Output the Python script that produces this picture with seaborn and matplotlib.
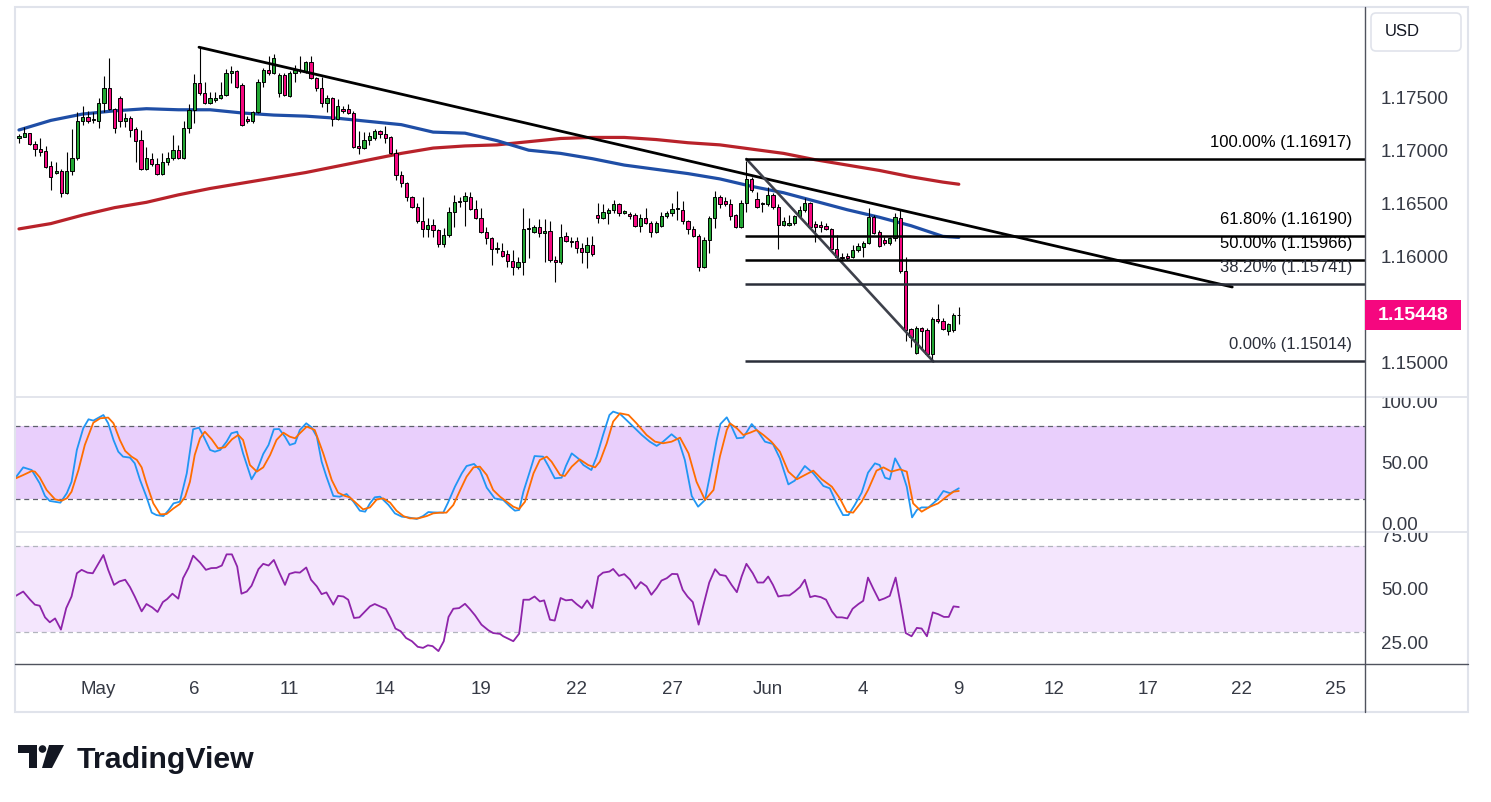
import numpy as np
import pandas as pd
import matplotlib
matplotlib.use("Agg")
import matplotlib.pyplot as plt
import seaborn as sns
from matplotlib.transforms import Affine2D, blended_transform_factory, Bbox, TransformedBbox
from matplotlib.patches import Rectangle, FancyBboxPatch, Polygon, Circle
from matplotlib.lines import Line2D

# ---------------- data (4H candles) ----------------
open_px = [1.1711,1.1712,1.1716,1.1706,1.1701,1.1699,1.1685,1.1679,1.1680,1.1660,
           1.1680,1.1693,1.1727,1.1731,1.1728,1.1727,1.1744,1.1758,1.1739,1.1749,
           1.1727,1.1730,1.1720,1.1710,1.1682,1.1692,1.1687,1.1678,1.1689,1.1693,
           1.1700,1.1693,1.1721,1.1738,1.1763,1.1754,1.1744,1.1747,1.1749,1.1752,
           1.1773,1.1774,1.1761,1.1729,1.1727,1.1736,1.1764,1.1775,1.1773,1.1754,
           1.1771,1.1751,1.1773,1.1775,1.1774,1.1783,1.1768,1.1758,1.1744,1.1749,
           1.1729,1.1739,1.1739,1.1735,1.1704,1.1702,1.1710,1.1711,1.1718,1.1715,
           1.1712,1.1697,1.1677,1.1669,1.1656,1.1647,1.1633,1.1626,1.1630,1.1625,
           1.1612,1.1620,1.1642,1.1651,1.1652,1.1656,1.1645,1.1636,1.1623,1.1617,
           1.1607,1.1605,1.1602,1.1596,1.1590,1.1595,1.1626,1.1623,1.1628,1.1622,
           1.1624,1.1597,1.1595,1.1619,1.1615,1.1615,1.1608,1.1604,1.1611,1.1639,
           1.1636,1.1641,1.1644,1.1649,1.1641,1.1640,1.1639,1.1629,1.1636,1.1632,
           1.1623,1.1629,1.1638,1.1641,1.1645,1.1644,1.1633,1.1626,1.1619,1.1590,
           1.1616,1.1636,1.1656,1.1652,1.1649,1.1639,1.1628,1.1650,1.1673,1.1654,
           1.1649,1.1649,1.1658,1.1647,1.1630,1.1630,1.1632,1.1638,1.1644,1.1650,
           1.1631,1.1630,1.1629,1.1626,1.1607,1.1600,1.1601,1.1600,1.1606,1.1609,
           1.1613,1.1637,1.1623,1.1616,1.1613,1.1617,1.1636,1.1586,1.1532,1.1509,
           1.1533,1.1531,1.1508,1.1541,1.1539,1.1530,1.1531,1.1545]
close_px = [1.1713,1.1716,1.1706,1.1701,1.1698,1.1684,1.1675,1.1680,1.1660,1.1680,
            1.1693,1.1727,1.1731,1.1727,1.1729,1.1744,1.1758,1.1739,1.1721,1.1727,
            1.1730,1.1719,1.1709,1.1682,1.1693,1.1687,1.1678,1.1689,1.1693,1.1700,
            1.1693,1.1721,1.1738,1.1763,1.1754,1.1744,1.1749,1.1749,1.1752,1.1773,
            1.1774,1.1759,1.1724,1.1727,1.1736,1.1764,1.1775,1.1773,1.1787,1.1771,
            1.1752,1.1773,1.1775,1.1774,1.1783,1.1768,1.1758,1.1744,1.1749,1.1729,
            1.1742,1.1737,1.1735,1.1703,1.1702,1.1710,1.1713,1.1718,1.1715,1.1711,
            1.1697,1.1677,1.1669,1.1656,1.1647,1.1633,1.1626,1.1630,1.1625,1.1612,
            1.1620,1.1642,1.1651,1.1652,1.1657,1.1645,1.1636,1.1623,1.1617,1.1607,
            1.1608,1.1601,1.1596,1.1590,1.1595,1.1626,1.1627,1.1628,1.1622,1.1624,
            1.1597,1.1595,1.1618,1.1615,1.1614,1.1608,1.1604,1.1611,1.1602,1.1636,
            1.1642,1.1644,1.1649,1.1641,1.1643,1.1638,1.1629,1.1636,1.1632,1.1623,
            1.1632,1.1638,1.1641,1.1645,1.1646,1.1633,1.1626,1.1619,1.1590,1.1616,
            1.1636,1.1656,1.1649,1.1649,1.1638,1.1628,1.1650,1.1673,1.1663,1.1647,
            1.1650,1.1658,1.1647,1.1630,1.1633,1.1632,1.1638,1.1644,1.1650,1.1628,
            1.1628,1.1628,1.1626,1.1607,1.1600,1.1599,1.1599,1.1606,1.1610,1.1613,
            1.1637,1.1622,1.1610,1.1613,1.1617,1.1637,1.1586,1.1531,1.1524,1.1533,
            1.1530,1.1508,1.1541,1.1539,1.1532,1.1537,1.1545,1.15448]
high_px = [1.1715,1.1722,1.1716,1.1709,1.1711,1.1704,1.1690,1.1689,1.1682,1.1698,
           1.1720,1.1736,1.1742,1.1737,1.1736,1.1749,1.1770,1.1787,1.1740,1.1751,
           1.1735,1.1732,1.1722,1.1719,1.1703,1.1697,1.1693,1.1697,1.1698,1.1714,
           1.1705,1.1727,1.1743,1.1772,1.1797,1.1764,1.1755,1.1755,1.1764,1.1776,
           1.1779,1.1775,1.1763,1.1732,1.1737,1.1767,1.1777,1.1789,1.1790,1.1773,
           1.1773,1.1774,1.1780,1.1789,1.1784,1.1789,1.1769,1.1769,1.1752,1.1750,
           1.1748,1.1742,1.1743,1.1737,1.1718,1.1717,1.1717,1.1720,1.1719,1.1723,
           1.1713,1.1701,1.1680,1.1670,1.1657,1.1650,1.1656,1.1636,1.1635,1.1626,
           1.1627,1.1647,1.1658,1.1656,1.1661,1.1661,1.1653,1.1646,1.1628,1.1618,
           1.1614,1.1613,1.1606,1.1606,1.1600,1.1646,1.1636,1.1630,1.1635,1.1635,
           1.1633,1.1601,1.1631,1.1623,1.1618,1.1618,1.1613,1.1618,1.1619,1.1650,
           1.1649,1.1646,1.1653,1.1650,1.1644,1.1642,1.1641,1.1640,1.1646,1.1633,
           1.1633,1.1642,1.1643,1.1650,1.1662,1.1652,1.1634,1.1629,1.1621,1.1618,
           1.1638,1.1662,1.1658,1.1656,1.1654,1.1640,1.1653,1.1690,1.1675,1.1661,
           1.1651,1.1665,1.1660,1.1649,1.1637,1.1639,1.1639,1.1648,1.1655,1.1651,
           1.1633,1.1633,1.1632,1.1627,1.1620,1.1603,1.1603,1.1611,1.1613,1.1615,
           1.1646,1.1639,1.1625,1.1618,1.1618,1.1641,1.1644,1.1600,1.1533,1.1535,
           1.1534,1.1533,1.1543,1.1555,1.1542,1.1538,1.1547,1.1553]
low_px = [1.1707,1.1712,1.1705,1.1695,1.1695,1.1683,1.1663,1.1678,1.1656,1.1659,
          1.1677,1.1691,1.1724,1.1726,1.1726,1.1721,1.1736,1.1738,1.1716,1.1722,
          1.1722,1.1712,1.1689,1.1681,1.1681,1.1685,1.1677,1.1677,1.1686,1.1691,
          1.1692,1.1692,1.1716,1.1726,1.1752,1.1743,1.1743,1.1745,1.1748,1.1751,
          1.1763,1.1758,1.1723,1.1726,1.1726,1.1735,1.1759,1.1771,1.1772,1.1750,
          1.1751,1.1750,1.1764,1.1773,1.1773,1.1767,1.1756,1.1741,1.1736,1.1723,
          1.1728,1.1735,1.1734,1.1702,1.1696,1.1701,1.1705,1.1710,1.1711,1.1707,
          1.1696,1.1672,1.1665,1.1652,1.1646,1.1632,1.1618,1.1618,1.1618,1.1609,
          1.1609,1.1618,1.1628,1.1647,1.1629,1.1644,1.1635,1.1622,1.1612,1.1592,
          1.1603,1.1600,1.1590,1.1583,1.1588,1.1583,1.1599,1.1622,1.1618,1.1595,
          1.1595,1.1576,1.1593,1.1614,1.1609,1.1603,1.1594,1.1589,1.1601,1.1632,
          1.1635,1.1631,1.1641,1.1638,1.1640,1.1635,1.1628,1.1623,1.1631,1.1618,
          1.1622,1.1628,1.1636,1.1638,1.1634,1.1631,1.1621,1.1618,1.1586,1.1589,
          1.1603,1.1627,1.1646,1.1648,1.1634,1.1627,1.1627,1.1642,1.1661,1.1646,
          1.1642,1.1648,1.1645,1.1607,1.1629,1.1629,1.1630,1.1637,1.1642,1.1627,
          1.1614,1.1623,1.1625,1.1606,1.1597,1.1597,1.1597,1.1599,1.1604,1.1600,
          1.1612,1.1621,1.1609,1.1611,1.1611,1.1615,1.1585,1.1521,1.1515,1.1508,
          1.1512,1.1507,1.15014,1.1538,1.1531,1.1526,1.1529,1.1537]

# moving averages (sampled every 6 bars)
ma_bars = [0,6,12,18,24,30,36,42,48,54,60,66,72,78,84,90,96,102,108,114,120,
           126,132,138,144,150,156,162,168,174,177]
ma_fast = [1.1719,1.1728,1.1734,1.1737,1.1739,1.1738,1.1738,1.1735,1.1733,1.1732,
           1.1730,1.1727,1.1724,1.1717,1.1716,1.1709,1.1700,1.1697,1.1692,1.1686,
           1.1682,1.1678,1.1673,1.1666,1.1660,1.1652,1.1644,1.1637,1.1629,1.1619,1.1618]
ma_slow = [1.1626,1.1631,1.1639,1.1646,1.1651,1.1658,1.1664,1.1669,1.1674,1.1679,
           1.1685,1.1691,1.1697,1.1702,1.1704,1.1705,1.1708,1.1711,1.1712,1.1712,
           1.1710,1.1707,1.1705,1.1701,1.1697,1.1691,1.1686,1.1681,1.1675,1.1670,1.1668]

# stochastic %K / %D
k_bars = [-0.6,0.8,2.4,3.9,4.9,5.8,7.8,9.0,9.9,10.9,
          12.1,13.1,14.0,15.9,16.8,17.8,18.7,19.6,20.9,21.8,
          22.8,24.0,25.0,25.9,27.2,28.1,29.1,30.3,31.6,32.8,
          33.9,34.8,36.0,36.9,37.9,39.1,40.0,41.1,42.2,43.8,
          44.9,46.0,47.0,48.0,49.0,50.1,51.0,52.0,52.9,54.1,
          55.1,56.1,57.0,57.9,59.2,60.4,61.7,63.0,64.2,65.2,
          66.1,67.0,68.0,69.6,70.8,72.1,73.3,74.9,76.1,77.1,
          78.0,79.9,80.8,82.1,83.4,84.3,85.7,86.8,88.1,89.6,
          91.2,92.5,93.4,94.2,95.0,96.2,97.1,98.7,99.7,100.9,
          102.2,103.0,104.1,105.3,106.3,107.8,108.8,110.0,111.2,111.9,
          113.2,114.4,116.0,117.3,118.8,120.1,121.3,122.9,124.2,125.4,
          126.7,127.9,129.2,130.4,131.4,132.1,133.3,134.2,135.2,136.4,
          138.0,139.2,140.5,142.0,143.3,144.9,146.1,148.0,149.6,151.5,
          152.7,154.0,155.2,156.2,157.4,158.7,159.9,161.2,162.1,163.1,
          164.0,165.0,166.2,167.2,168.2,169.1,170.0,171.3,172.9,174.1,
          175.4,177.0]
k_vals = [37.8,46.0,43.8,32.9,22.5,18.4,17.0,24.7,34.2,60.3,
          78.1,85.5,84.4,89.0,82.2,68.5,58.9,54.8,54.0,49.3,
          35.6,21.9,8.8,6.8,6.0,10.4,16.4,17.8,41.1,77.3,
          78.6,71.2,60.3,58.9,60.3,67.1,74.0,75.3,57.5,36.2,
          44.4,57.0,64.4,77.3,77.5,71.2,64.4,65.8,76.7,82.2,
          78.9,71.2,50.7,38.4,22.5,21.9,24.1,17.8,10.4,9.6,
          16.4,21.4,21.9,15.1,8.2,5.5,4.9,3.6,6.0,9.3,
          9.0,8.8,17.0,30.1,41.1,47.1,48.8,43.8,29.3,20.5,
          19.2,13.7,10.4,11.0,26.0,42.5,55.3,54.8,47.1,37.0,
          37.5,47.1,57.5,53.4,47.9,43.8,54.8,72.6,89.0,91.8,
          89.9,84.9,78.1,72.6,67.1,63.6,67.1,73.2,68.5,52.1,
          22.5,13.7,19.2,45.2,68.5,81.6,87.1,79.5,69.9,70.4,
          81.6,75.3,67.1,65.2,53.4,32.0,35.1,47.1,41.1,30.7,
          28.8,16.4,6.8,6.8,15.1,25.2,41.6,49.3,47.9,37.5,
          36.2,53.4,43.8,30.1,4.9,11.0,13.1,13.1,19.2,26.6,
          24.7,28.8]
d_bars = [-0.6,0.8,2.4,3.0,3.9,5.2,6.8,8.0,9.0,9.9,
          11.2,12.4,14.0,15.3,16.8,17.8,19.0,20.0,21.2,22.2,
          23.1,24.0,25.3,26.6,27.8,29.1,30.3,31.3,32.2,33.1,
          34.1,35.0,36.3,37.5,38.8,40.1,41.3,42.2,43.5,44.8,
          46.0,47.3,48.5,49.8,51.0,52.0,52.9,54.2,55.7,57.3,
          58.9,60.1,61.4,62.3,63.9,64.8,66.1,67.4,68.6,69.9,
          71.1,72.4,73.6,75.2,76.8,78.0,79.3,80.5,81.8,83.1,
          84.3,85.6,86.8,88.1,89.3,90.6,93.1,94.2,95.3,96.9,
          98.1,99.4,100.3,101.9,102.8,104.1,105.6,107.2,108.5,109.4,
          110.7,111.9,113.2,114.8,116.3,118.2,119.8,121.3,122.9,124.5,
          126.1,127.6,129.2,130.8,132.0,133.3,133.9,135.2,136.4,137.7,
          138.9,140.2,141.7,143.3,144.9,146.5,148.0,149.6,151.2,153.1,
          154.6,155.9,157.1,158.7,159.9,161.5,162.8,164.3,165.9,167.2,
          168.4,170.0,171.6,173.1,174.7,176.0,177.0]
d_vals = [37.0,39.7,43.0,42.5,37.8,27.4,19.7,18.6,20.5,26.0,
          43.8,64.4,82.7,86.3,86.9,82.2,68.5,59.5,54.8,52.1,
          46.0,32.9,16.4,7.4,7.7,12.3,15.9,21.9,34.2,56.2,
          69.9,75.3,69.0,61.6,62.5,69.0,72.6,68.5,47.9,42.5,
          46.0,56.2,68.5,74.5,71.2,69.9,74.0,79.5,76.7,57.5,
          35.6,25.2,22.5,21.4,15.1,11.5,13.1,19.7,20.5,17.0,
          10.4,6.0,4.1,4.1,6.0,8.2,8.8,8.8,15.1,27.4,
          38.4,46.0,46.6,39.7,27.4,21.9,13.7,11.8,17.8,41.1,
          52.1,54.8,50.7,39.7,38.9,46.6,52.6,47.9,46.0,50.7,
          65.8,83.6,90.4,89.0,82.2,72.6,67.1,65.8,67.1,70.4,
          57.5,34.2,19.2,27.4,54.8,76.7,82.2,78.1,72.6,74.5,
          76.7,72.6,67.1,58.9,42.5,36.2,39.7,43.3,36.2,30.1,
          20.5,9.6,8.8,17.8,27.4,43.3,46.0,42.5,44.4,42.5,
          16.4,9.6,13.7,16.4,21.9,26.0,26.6]

# RSI
r_bars = [-0.6,0.8,2.1,3.0,3.9,4.9,5.8,6.8,7.9,8.9,
          9.9,10.9,11.8,12.9,13.9,15.9,16.8,17.9,18.9,20.0,
          20.9,21.8,23.1,24.0,25.1,26.1,27.1,27.9,28.9,30.0,
          30.9,31.9,32.8,34.1,35.2,36.2,37.2,38.2,39.1,40.1,
          41.1,41.9,42.9,43.8,45.1,46.0,47.0,48.0,49.0,50.1,
          50.9,52.0,52.9,54.1,55.0,56.1,57.0,57.9,59.2,60.1,
          61.1,62.0,63.1,64.1,65.2,66.1,67.0,68.0,69.1,70.0,
          70.9,71.9,72.9,74.0,75.1,76.1,77.0,77.9,79.0,80.0,
          80.9,81.8,82.9,84.0,84.9,85.9,87.1,88.4,89.3,90.6,
          91.2,93.1,94.2,95.0,96.1,97.1,98.1,98.9,100.0,100.9,
          102.0,103.0,104.1,105.0,106.0,107.0,108.0,109.1,110.0,111.2,
          111.9,113.0,114.0,115.1,116.1,117.1,118.2,119.1,120.1,121.0,
          122.0,123.0,124.0,125.0,125.9,126.9,128.0,129.0,130.0,131.1,
          132.0,133.1,134.2,135.2,136.1,137.0,138.2,139.1,140.2,141.1,
          142.0,143.0,144.1,145.1,146.1,147.1,148.0,149.0,149.9,151.0,
          152.0,153.1,154.0,155.0,156.0,157.0,158.1,159.0,159.9,160.9,
          162.0,163.0,164.0,165.1,166.1,167.0,168.1,169.1,170.0,171.0,
          172.1,173.1,174.2,175.1,176.0,177.0]
r_vals = [46.8,48.8,45.0,42.7,42.2,36.8,34.5,36.3,31.1,41.1,
          46.5,57.3,58.9,57.6,57.3,65.8,58.9,51.9,53.5,54.3,
          50.9,46.5,39.6,43.0,41.4,39.3,43.9,45.3,47.8,45.5,
          55.0,59.7,65.5,62.3,58.9,59.7,59.8,60.9,66.1,66.1,
          60.4,47.8,48.8,51.5,59.2,61.7,60.9,63.5,57.8,51.9,
          57.0,57.8,57.6,60.0,54.3,51.2,47.6,48.4,42.7,46.8,
          46.5,45.0,36.5,36.8,39.6,41.9,43.0,41.9,40.7,36.5,
          31.6,30.3,27.2,25.7,23.1,22.6,23.8,23.4,21.1,25.7,
          37.0,40.8,41.1,43.1,40.7,37.7,33.4,30.8,29.5,29.1,
          28.0,25.7,29.2,45.0,45.0,46.5,44.2,44.7,35.7,35.3,
          45.8,44.7,45.0,43.0,41.1,44.7,41.1,55.8,57.6,58.1,
          59.3,56.1,56.9,54.3,50.1,53.2,51.2,47.3,50.4,53.9,
          55.0,57.0,56.9,49.6,46.5,43.9,33.4,43.4,53.0,59.2,
          56.6,56.1,51.9,48.5,55.8,61.7,57.3,53.0,53.0,55.8,
          51.9,46.5,47.0,47.0,48.8,50.9,54.3,46.2,46.8,46.2,
          45.0,39.6,36.8,36.8,36.3,40.8,43.0,44.5,55.3,50.1,
          44.7,45.6,46.8,55.3,42.2,29.5,28.0,31.9,31.6,28.0,
          39.1,38.3,37.0,37.0,41.9,41.6]

# drawings
trend_line = [(33.9, 1.17968), (228.5, 1.15714)]
fib_anchor = [(137.0, 1.16917), (172.2, 1.15014)]
fib_levels = [1.0, 0.618, 0.5, 0.382, 0.0]
fib_prices = [1.16917, 1.16190, 1.15966, 1.15741, 1.15014]
fib_start = 136.8

date_ticks = [15, 33, 51, 69, 87, 105, 123, 141, 159, 177, 195, 212.7, 230.3, 247.9]
date_labels = ['May', '6', '11', '14', '19', '22', '27', 'Jun', '4', '9', '12', '17', '22', '25']
price_ticks = [1.150, 1.160, 1.165, 1.170, 1.175]
stoch_ticks = [0, 50, 100]
rsi_ticks = [25, 50, 75]

# ---------------- style ----------------
sns.set_style("white")
plt.rcParams['font.family'] = ['Liberation Sans', 'DejaVu Sans']

GREEN = '#22a633'
PINK = '#f5077f'
TXT = '#363a45'

W, H = 1491, 802
fig = plt.figure(figsize=(W / 100, H / 100), dpi=100)
fig.patch.set_facecolor('white')
PX = Affine2D().scale(1.0 / W, -1.0 / H).translate(0, 1) + fig.transFigure


def rect(x0, y0, x1, y1):
    return [x0 / W, 1 - y1 / H, (x1 - x0) / W, (y1 - y0) / H]


ax_p = fig.add_axes(rect(15, 7, 1365, 397))
ax_s = fig.add_axes(rect(15, 397, 1365, 532), sharex=ax_p)
ax_r = fig.add_axes(rect(15, 532, 1365, 664), sharex=ax_p)

# ---------------- price pane ----------------
o = np.array(open_px); c = np.array(close_px); hh = np.array(high_px); ll = np.array(low_px)
n = min(len(o), len(c), len(hh), len(ll))
o, c, hh, ll = o[:n], c[:n], hh[:n], ll[:n]
idx = np.arange(n)
cols = np.where(c >= o, GREEN, PINK)

sns.lineplot(x=ma_bars, y=ma_slow, ax=ax_p, color='#b8222a', linewidth=2.3,
             estimator=None, sort=False, zorder=2)
sns.lineplot(x=ma_bars, y=ma_fast, ax=ax_p, color='#1f4ea6', linewidth=2.3,
             estimator=None, sort=False, zorder=2)

ax_p.vlines(idx, ll, hh, color='black', linewidth=0.8, zorder=3)
ax_p.bar(idx, np.maximum(np.abs(c - o), 0.00004), bottom=np.minimum(o, c), width=0.62,
         color=cols, edgecolor='black', linewidth=0.7, zorder=4)

# trend line
ax_p.plot([p[0] for p in trend_line], [p[1] for p in trend_line], color='black',
          linewidth=2.0, solid_capstyle='round', zorder=6)
# fib diagonal
ax_p.plot([p[0] for p in fib_anchor], [p[1] for p in fib_anchor], color='#3e414b',
          linewidth=1.9, solid_capstyle='round', zorder=6)

XMIN, XMAX = -0.75, 253.5
for lvl, pr in zip(fib_levels, fib_prices):
    col = 'black' if lvl >= 0.5 else '#2a2e39'
    ax_p.hlines(pr, fib_start, XMAX, color=col, linewidth=1.8, zorder=6)
    ax_p.annotate(f"{lvl * 100:.2f}% ({pr:.5f})", xy=(0.9904, pr),
                  xycoords=('axes fraction', 'data'), xytext=(0, 17),
                  textcoords='offset pixels', ha='right', va='center',
                  fontsize=12, color=col, zorder=7)

ax_p.set_ylim(1.14680, 1.18346)
ax_p.yaxis.tick_right()
ax_p.set_yticks(price_ticks)
ax_p.set_yticklabels([f"{t:.5f}" for t in price_ticks])

# ---------------- stochastic pane ----------------
ax_s.axhspan(20, 80, color='#e9cffc', zorder=0, linewidth=0)
for lv in (80, 20):
    ax_s.axhline(lv, color='#5d606b', linewidth=0.9, linestyle=(0, (4, 3)), zorder=1)
nk = min(len(k_bars), len(k_vals)); nd = min(len(d_bars), len(d_vals))
df_k = pd.DataFrame({'bar': k_bars[:nk], 'value': k_vals[:nk]})
df_d = pd.DataFrame({'bar': d_bars[:nd], 'value': d_vals[:nd]})
sns.lineplot(data=df_k, x='bar', y='value', ax=ax_s, color='#2196f3', linewidth=1.3,
             estimator=None, sort=False, zorder=3)
sns.lineplot(data=df_d, x='bar', y='value', ax=ax_s, color='#ff6d00', linewidth=1.3,
             estimator=None, sort=False, zorder=3)
ax_s.set_ylim(-7.1, 103.8)
ax_s.yaxis.tick_right()
ax_s.set_yticks(stoch_ticks)
ax_s.set_yticklabels([f"{t:.2f}" for t in stoch_ticks])

# ---------------- RSI pane ----------------
ax_r.axhspan(30, 70, color='#f4e6fd', zorder=0, linewidth=0)
for lv in (70, 30):
    ax_r.axhline(lv, color='#b2b5be', linewidth=0.9, linestyle=(0, (4, 3)), zorder=1)
nr = min(len(r_bars), len(r_vals))
df_r = pd.DataFrame({'bar': r_bars[:nr], 'value': r_vals[:nr]})
sns.lineplot(data=df_r, x='bar', y='value', ax=ax_r, color='#8e24aa', linewidth=1.3,
             estimator=None, sort=False, zorder=3)
ax_r.set_ylim(15.1, 76.5)
ax_r.yaxis.tick_right()
ax_r.set_yticks(rsi_ticks)
ax_r.set_yticklabels([f"{t:.2f}" for t in rsi_ticks])

# ---------------- common axis styling ----------------
ax_r.set_xticks(date_ticks)
ax_r.set_xticklabels(date_labels)
ax_p.set_xlim(XMIN, XMAX)
for ax in (ax_p, ax_s, ax_r):
    ax.set_facecolor('white')
    ax.set_xlabel('')
    ax.set_ylabel('')
    ax.grid(False)
    for s in ax.spines.values():
        s.set_visible(False)
    ax.tick_params(axis='y', which='both', length=0, pad=11.5, labelsize=13.5, labelcolor=TXT)
    ax.tick_params(axis='x', which='both', length=0)
ax_p.tick_params(axis='x', labelbottom=False)
ax_s.tick_params(axis='x', labelbottom=False)
ax_r.tick_params(axis='x', labelbottom=True, pad=12, labelsize=13.5, labelcolor=TXT)

# each pane clips its own scale labels (as in the reference)
for ax in (ax_p, ax_s, ax_r):
    clip = TransformedBbox(Bbox([[0.0, 0.0], [1.2, 1.0]]), ax.transAxes)
    for t in ax.yaxis.get_major_ticks():
        for lab in (t.label1, t.label2):
            lab.set_clip_box(clip)
            lab.set_clip_on(True)

# ---------------- frame lines ----------------
fig.add_artist(Rectangle((15, 7), 1453, 705, transform=PX, fill=False,
                         edgecolor='#e0e3eb', linewidth=1.5, zorder=1))
for y in (397, 532):
    fig.add_artist(Line2D([15, 1468], [y, y], transform=PX, color='#e0e3eb', linewidth=1.3))
fig.add_artist(Line2D([15, 1468], [664, 664], transform=PX, color='#50535e', linewidth=1.0))
fig.add_artist(Line2D([1365, 1365], [7, 712], transform=PX, color='#50535e', linewidth=1.0))

# current price label
last = c[-1]
box_tr = blended_transform_factory(PX, ax_p.transData)
fig.add_artist(Rectangle((1365, last - 0.00141), 96, 0.00282, transform=box_tr,
                         facecolor=PINK, edgecolor='none', zorder=5))
fig.text(1413, last, f"{last:.5f}", transform=box_tr, ha='center', va='center',
         color='white', fontsize=14, fontweight='bold', zorder=6)

# USD box
fig.add_artist(FancyBboxPatch((1371, 13), 90, 38, boxstyle='round,pad=0,rounding_size=5',
                              transform=PX, facecolor='white', edgecolor='#e0e3eb',
                              linewidth=1.2, zorder=5))
fig.text(1385, 32, 'USD', transform=PX, ha='left', va='center', fontsize=12,
         color='#131722', zorder=6)

# TradingView logo
fig.add_artist(Polygon([(18, 745), (37, 745), (37, 768), (29, 768), (29, 753), (18, 753)],
                       closed=True, transform=PX, facecolor='#131722', edgecolor='none'))
fig.add_artist(Circle((42.5, 749), 3.8, transform=PX, facecolor='#131722', edgecolor='none'))
fig.add_artist(Polygon([(49, 745), (64, 745), (52, 768), (42, 768)], closed=True,
                       transform=PX, facecolor='#131722', edgecolor='none'))
fig.text(77, 768, 'TradingView', transform=PX, ha='left', va='baseline', fontsize=21.8,
         fontweight='bold', color='#131722')

fig.savefig('out.png', dpi=100, facecolor='white')
